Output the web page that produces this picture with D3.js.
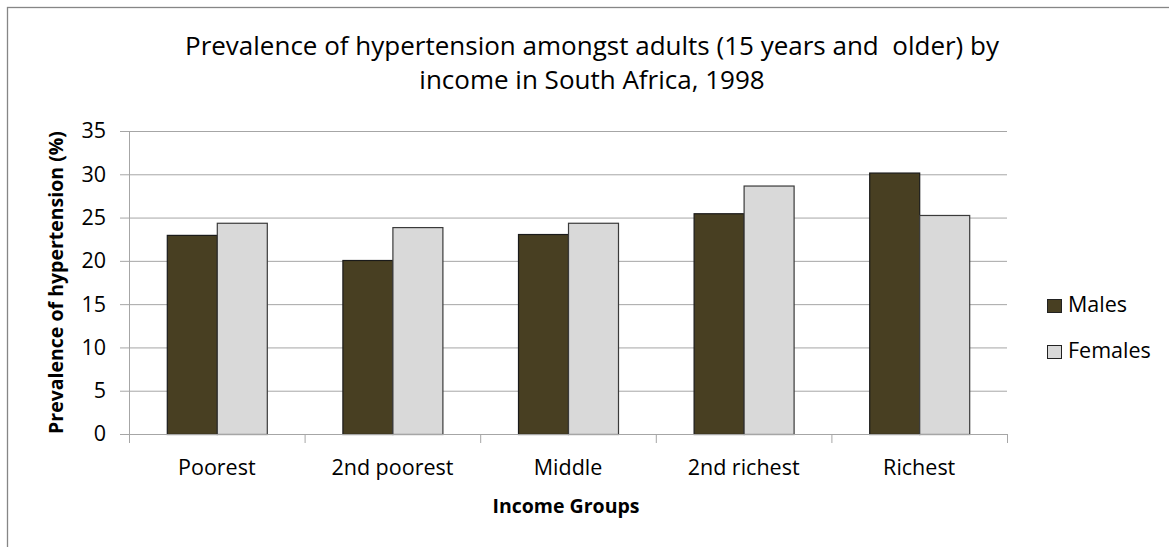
<!DOCTYPE html>
<html>
<head>
<meta charset="utf-8">
<script src="https://cdn.jsdelivr.net/npm/d3@7"></script>
<style>
  body { margin: 0; background: #fff; }
  text { font-family: "Open Sans", sans-serif; fill: #000; }
</style>
</head>
<body>
<script>
// data
const groups = ["Poorest", "2nd poorest", "Middle", "2nd richest", "Richest"];
const series = ["Males", "Females"];
const males = [23.0, 20.1, 23.1, 25.5, 30.2];
const females = [24.4, 23.9, 24.4, 28.7, 25.3];
const yTicks = [0, 5, 10, 15, 20, 25, 30, 35];
const colors = ["#483f22", "#d9d9d9"];

const width = 1169, height = 547;
const plot = { left: 129, right: 1007, top: 131, bottom: 434 };

const svg = d3.select("body").append("svg")
  .attr("width", width)
  .attr("height", height);

// outer chart border (runs off the right / bottom edge)
svg.append("rect")
  .attr("x", 7.5).attr("y", 7.5)
  .attr("width", 1200).attr("height", 600)
  .attr("fill", "none")
  .attr("stroke", "#868686")
  .attr("stroke-width", 1.3);

const x = d3.scaleBand().domain(groups).range([plot.left, plot.right]).paddingInner(0).paddingOuter(0);
const xs = d3.scaleBand().domain(series).range([0, x.bandwidth()]).paddingInner(0).paddingOuter(0.756);
const y = d3.scaleLinear().domain([0, 35]).range([plot.bottom, plot.top]);

// gridlines + y axis
const yAxis = svg.append("g")
  .attr("transform", `translate(${plot.left},0)`)
  .call(d3.axisLeft(y).tickValues(yTicks).tickSize(-(plot.right - plot.left)).tickPadding(23).tickFormat(d3.format("d")));
yAxis.select(".domain").remove();
yAxis.selectAll(".tick line").attr("stroke", "#a6a6a6").attr("x1", -9);
yAxis.selectAll(".tick text")
  .style("font-size", "21.5px")
  .style("font-family", "'Open Sans', sans-serif")
  .attr("fill", "#000");

// vertical axis line
svg.append("line")
  .attr("x1", plot.left + 0.5).attr("x2", plot.left + 0.5)
  .attr("y1", plot.top).attr("y2", plot.bottom)
  .attr("stroke", "#a6a6a6");

// bars
const rows = groups.map((g, i) => ({ g, vals: [males[i], females[i]] }));
const gg = svg.append("g").selectAll("g").data(rows).join("g")
  .attr("transform", d => `translate(${x(d.g)},0)`);
gg.selectAll("rect")
  .data(d => d.vals.map((v, j) => ({ s: series[j], v, j })))
  .join("rect")
  .attr("x", d => xs(d.s) + 0.5)
  .attr("y", d => y(d.v) + 0.5)
  .attr("width", xs.bandwidth())
  .attr("height", d => plot.bottom - y(d.v))
  .attr("fill", d => colors[d.j])
  .attr("stroke", d => d.j === 0 ? "#1a1a1a" : "#3a3a3a")
  .attr("stroke-width", 1.2);

// x axis
const xAxis = svg.append("g")
  .attr("transform", `translate(0,${plot.bottom})`)
  .call(d3.axisBottom(x).tickSize(0));
xAxis.select(".domain").remove();
xAxis.selectAll(".tick text")
  .attr("y", 475 - plot.bottom)
  .attr("dy", 0)
  .style("font-size", "21.5px")
  .style("font-family", "'Open Sans', sans-serif")
  .attr("fill", "#000");
svg.append("line")
  .attr("x1", plot.left).attr("x2", plot.right)
  .attr("y1", plot.bottom + 0.5).attr("y2", plot.bottom + 0.5)
  .attr("stroke", "#a6a6a6");
svg.append("g").selectAll("line")
  .data(groups.concat(["end"]))
  .join("line")
  .attr("x1", (d, i) => plot.left + i * x.bandwidth() + 0.5)
  .attr("x2", (d, i) => plot.left + i * x.bandwidth() + 0.5)
  .attr("y1", plot.bottom)
  .attr("y2", plot.bottom + 9)
  .attr("stroke", "#a6a6a6");

// title
const title = svg.append("text")
  .attr("text-anchor", "middle")
  .style("font-size", "26px")
  .style("white-space", "pre");
title.append("tspan").attr("x", 592).attr("y", 55)
  .text("Prevalence of hypertension amongst adults (15 years and  older) by");
title.append("tspan").attr("x", 592).attr("y", 89)
  .text("income in South Africa, 1998");

// axis titles
svg.append("text")
  .attr("transform", `translate(63,${(plot.top + plot.bottom) / 2}) rotate(-90)`)
  .attr("text-anchor", "middle")
  .style("font-size", "19.5px").style("font-weight", "bold")
  .text("Prevalence of hypertension (%)");
svg.append("text")
  .attr("x", 566).attr("y", 513)
  .attr("text-anchor", "middle")
  .style("font-size", "19.5px").style("font-weight", "bold")
  .text("Income Groups");

// legend
const leg = svg.append("g").selectAll("g").data(series).join("g")
  .attr("transform", (d, i) => `translate(1047,${299 + i * 46})`);
leg.append("rect")
  .attr("x", 0.5).attr("y", 0.5)
  .attr("width", 14).attr("height", 13)
  .attr("fill", (d, i) => colors[i])
  .attr("stroke", "#222");
leg.append("text")
  .attr("x", 21).attr("y", 13)
  .style("font-size", "21.5px")
  .text(d => d);
</script>
</body>
</html>
